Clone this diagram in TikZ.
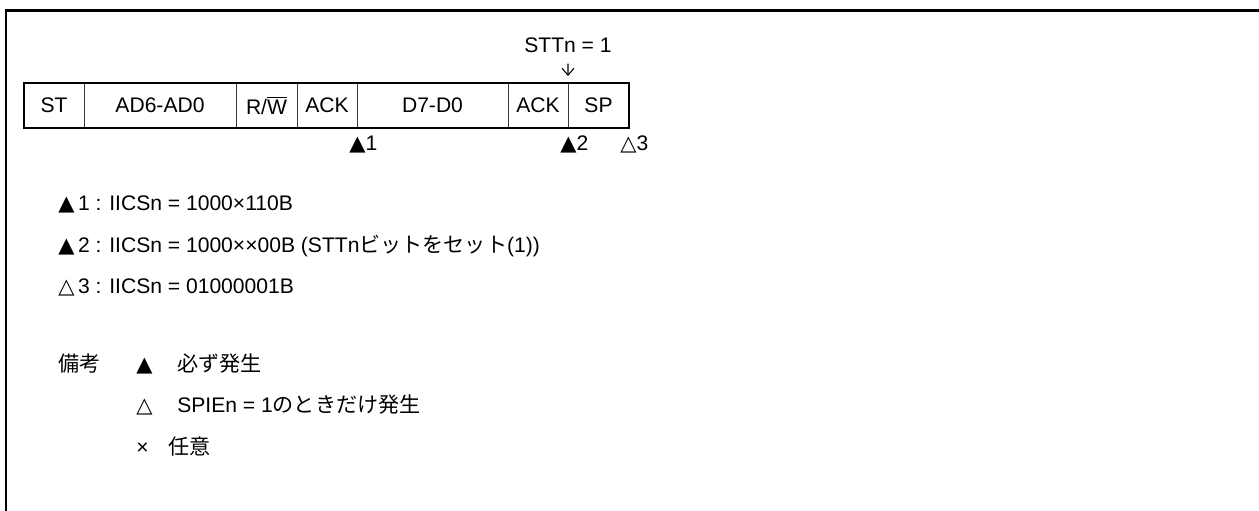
\documentclass[tikz,border=0pt]{standalone}
\usepackage{fontspec}
\setmainfont{Liberation Sans}
\newfontfamily\jpfont{Noto Sans CJK JP}
\newfontfamily\symfont{DejaVu Sans}
\usepackage{tikz}
\usetikzlibrary{positioning,arrows.meta}
\definecolor{frblack}{HTML}{000000}
\definecolor{cellgray}{HTML}{3A3A3A}
\newcommand{\trifull}{{\symfont ▲}}
\newcommand{\triopen}{{\symfont △}}
\tikzset{
  frameline/.style ={draw=frblack, line width=1.7pt},
  field/.style     ={draw=cellgray, line width=0.4pt, minimum height=0.9cm,
                     inner sep=0pt, outer sep=0pt},
  fieldframe/.style={draw=frblack, line width=0.8pt},
  evmark/.style    ={anchor=base west, inner sep=0pt},
  legend/.style    ={anchor=base west, inner sep=0pt},
  sttarrow/.style  ={-{Straight Barb[length=1.4mm,width=2.4mm]}, line width=0.6pt,
                     shorten <=0.1cm, shorten >=0.14cm},
}
\begin{document}
\begin{tikzpicture}[x=0.02cm,y=-0.02cm,font=\fontsize{12}{14}\selectfont]
    \useasboundingbox (0,0) rectangle (1259,511);
    % --- outer frame (open at right and bottom) ---
    \draw[frameline] (1259,10.5) -- (6,10.5) -- (6,511);
    % --- transfer frame ---
    \node[field,minimum width=60*0.02cm,anchor=north west] (st) at (24,83) {ST};
    \node[field,minimum width=152*0.02cm,right=0pt of st] (adr) {AD6-AD0};
    \node[field,minimum width=61*0.02cm,right=0pt of adr] (rw) {R/$\overline{\mbox{W}}$};
    \node[field,minimum width=60*0.02cm,right=0pt of rw] (acka) {ACK};
    \node[field,minimum width=151*0.02cm,right=0pt of acka] (dat) {D7-D0};
    \node[field,minimum width=60*0.02cm,right=0pt of dat] (ackb) {ACK};
    \node[field,minimum width=61*0.02cm,right=0pt of ackb] (sp) {SP};
    \draw[fieldframe] (st.north west) rectangle (sp.south east);
    % --- STT request ---
    \node (sttn) at (568,45) {STTn = 1};
    \draw[sttarrow] (sttn.south) -- (sp.north west);
    % --- interrupt points ---
    \node[evmark] (ev1) at ([shift={(-8,23)}]dat.south west) {\trifull1};
    \node[evmark] (ev2) at ([shift={(-8,23)}]sp.south west) {\trifull2};
    \node[evmark] (ev3) at ([shift={(-9,23)}]sp.south east) {\triopen3};
    % --- IICSn values ---
    \node[legend] (val1) at (58,210.5) {\trifull\,1 : IICSn = 1000×110B};
    \node[legend] (val2) at (58,252.5) {\trifull\,2 : IICSn = 1000××00B (STTn{\jpfont ビットをセット}(1))};
    \node[legend] (val3) at (58,293.5) {\triopen\,3 : IICSn = 01000001B};
    % --- remarks ---
    \node[legend] (rem) at (58,371) {\jpfont 備考};
    \node[legend] (rema) at (136,371) {\trifull};
    \node[legend] (remat) at (177,371) {\jpfont 必ず発生};
    \node[legend] (remb) at (136,412.5) {\triopen};
    \node[legend] (rembt) at (177,412.5) {SPIEn = 1{\jpfont のときだけ発生}};
    \node[legend] (remc) at (136,454) {×};
    \node[legend] (remct) at (168,454) {\jpfont 任意};
\end{tikzpicture}
\end{document}
